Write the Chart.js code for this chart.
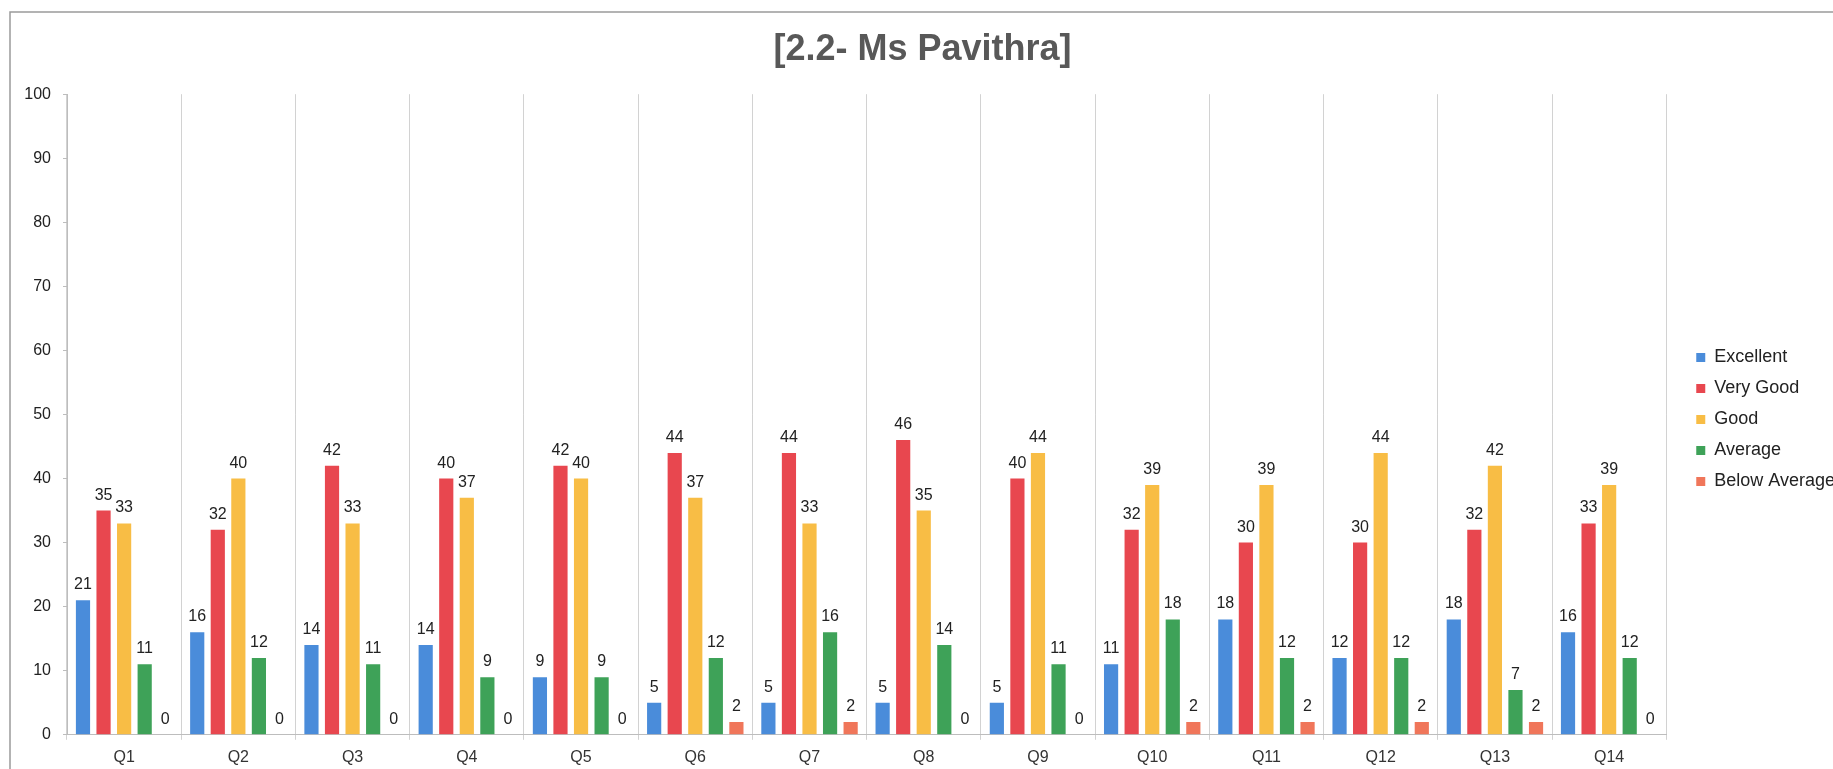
<!DOCTYPE html>
<html>
<head>
<meta charset="utf-8">
<title>[2.2- Ms Pavithra]</title>
<script src="https://cdn.jsdelivr.net/npm/chart.js@4.4.1/dist/chart.umd.min.js"></script>
<style>
  html, body { margin: 0; padding: 0; background: #ffffff; }
  #wrap { width: 1833px; height: 769px; }
</style>
</head>
<body>
<div id="wrap"><canvas id="chart" width="1833" height="769"></canvas></div>
<script>
// Feedback counts per question, one array per rating
const questions = ['Q1','Q2','Q3','Q4','Q5','Q6','Q7','Q8','Q9','Q10','Q11','Q12','Q13','Q14'];
const excellent    = [21, 16, 14, 14,  9,  5,  5,  5,  5, 11, 18, 12, 18, 16];
const veryGood     = [35, 32, 42, 40, 42, 44, 44, 46, 40, 32, 30, 30, 32, 33];
const good         = [33, 40, 33, 37, 40, 37, 33, 35, 44, 39, 39, 44, 42, 39];
const average      = [11, 12, 11,  9,  9, 12, 16, 14, 11, 18, 12, 12,  7, 12];
const belowAverage = [ 0,  0,  0,  0,  0,  2,  2,  0,  0,  2,  2,  2,  2,  0];
const seriesNames  = ['Excellent', 'Very Good', 'Good', 'Average', 'Below Average'];
const yTicks       = [0, 10, 20, 30, 40, 50, 60, 70, 80, 90, 100];

const FONT = '"Liberation Sans", Arial, Helvetica, sans-serif';
const colors = ['#4a8cda', '#e8474f', '#f8bd45', '#3ea258', '#f0765a'];
const values = [excellent, veryGood, good, average, belowAverage];

// Value labels above every bar
const barValueLabels = {
  id: 'barValueLabels',
  afterDatasetsDraw(chart) {
    const ctx = chart.ctx;
    ctx.save();
    ctx.font = '16px ' + FONT;
    ctx.fillStyle = '#222222';
    ctx.textAlign = 'center';
    ctx.textBaseline = 'alphabetic';
    chart.data.datasets.forEach((ds, i) => {
      chart.getDatasetMeta(i).data.forEach((bar, j) => {
        ctx.fillText(String(ds.data[j]), bar.x, bar.y - 11);
      });
    });
    ctx.restore();
  }
};

// White page with a thin frame around the chart
const frame = {
  id: 'frame',
  beforeDraw(chart) {
    const ctx = chart.ctx;
    ctx.save();
    ctx.fillStyle = '#ffffff';
    ctx.fillRect(0, 0, chart.width, chart.height);
    ctx.strokeStyle = '#9a9a9a';
    ctx.lineWidth = 1.5;
    ctx.strokeRect(10, 12, chart.width + 20, chart.height + 20);
    ctx.restore();
  }
};

new Chart(document.getElementById('chart'), {
  type: 'bar',
  data: {
    labels: questions,
    datasets: seriesNames.map((name, i) => ({
      label: name,
      data: values[i],
      backgroundColor: colors[i],
      borderWidth: 0,
      categoryPercentage: 0.9,
      barPercentage: 0.69
    }))
  },
  options: {
    responsive: false,
    devicePixelRatio: 1,
    animation: false,
    layout: { padding: { top: 0, left: 0, right: -12, bottom: -6 } },
    plugins: {
      title: {
        display: true,
        text: '[2.2- Ms Pavithra]',
        color: '#585858',
        font: { family: FONT, size: 36, weight: 'bold' },
        padding: { top: 28, bottom: 23 }
      },
      legend: {
        position: 'right',
        title: {
          display: true,
          text: ' ',
          font: { family: FONT, size: 10 },
          padding: { top: 26, bottom: 26 }
        },
        labels: {
          boxWidth: 9,
          boxHeight: 9,
          padding: 13,
          color: '#222222',
          font: { family: FONT, size: 18 }
        }
      },
      tooltip: { enabled: false }
    },
    scales: {
      x: {
        grid: { color: '#d2d2d2', offset: true, tickLength: 5 },
        border: { color: '#bdbdbd' },
        ticks: { color: '#333333', font: { family: FONT, size: 16 }, padding: 8 }
      },
      y: {
        min: 0,
        max: 100,
        afterBuildTicks(axis) { axis.ticks = yTicks.map(v => ({ value: v })); },
        afterFit(axis) { axis.width = 67; },
        grid: { drawOnChartArea: false, tickLength: 4, color: '#bdbdbd' },
        border: { color: '#bdbdbd' },
        ticks: { color: '#222222', font: { family: FONT, size: 16 }, padding: 12 }
      },
      // empty strip between the plot and the legend
      gap: {
        position: 'right',
        display: true,
        grid: { display: false },
        border: { display: false },
        ticks: { display: false },
        afterFit(axis) { axis.width = 17; }
      }
    }
  },
  plugins: [frame, barValueLabels]
});
</script>
</body>
</html>
